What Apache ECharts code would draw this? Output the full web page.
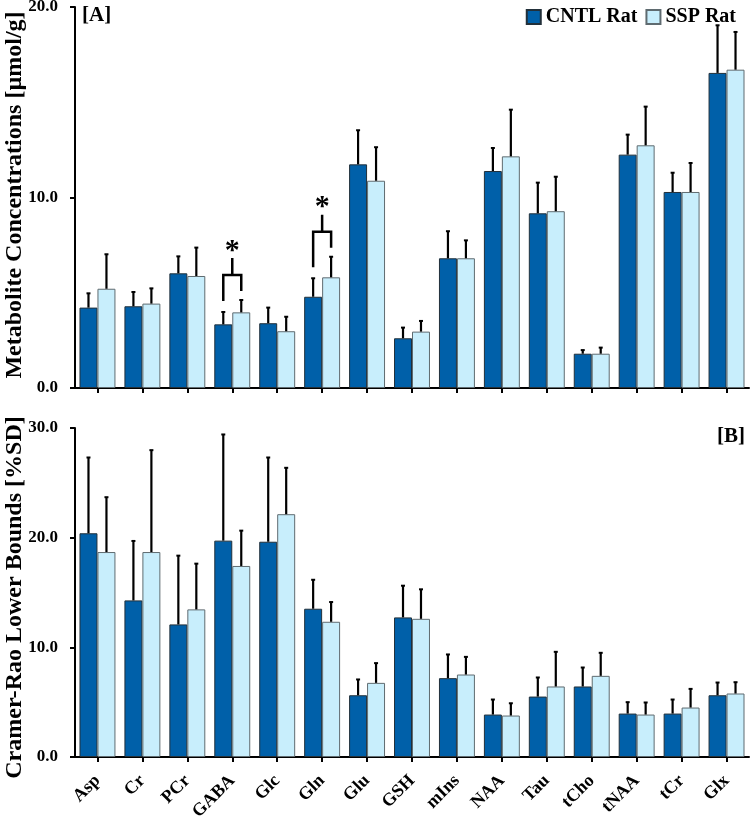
<!DOCTYPE html>
<html><head><meta charset="utf-8">
<script src="https://cdn.jsdelivr.net/npm/echarts@6/dist/echarts.min.js"></script>
<style>html,body{margin:0;padding:0;background:#fff}#c{width:750px;height:820px}</style>
</head><body><div id="c"></div>
<script>
const categories = ['Asp','Cr','PCr','GABA','Glc','Gln','Glu','GSH','mIns','NAA','Tau','tCho','tNAA','tCr','Glx'];
const seriesNames = ['CNTL Rat','SSP Rat'];
const concCNTL   = [4.22,4.29,6.02,3.34,3.40,4.79,11.74,2.61,6.81,11.39,9.17,1.80,12.25,10.29,16.54];
const concCNTLsd = [0.75,0.75,0.89,0.65,0.82,0.97,1.79,0.56,1.42,1.21,1.61,0.19,1.05,1.01,2.50];
const concSSP    = [5.21,4.43,5.88,3.97,2.98,5.81,10.88,2.96,6.81,12.16,9.28,1.80,12.74,10.29,16.71];
const concSSPsd  = [1.81,0.80,1.49,0.65,0.76,1.08,1.76,0.56,0.94,2.45,1.81,0.32,2.03,1.52,1.98];
const crlbCNTL   = [20.40,14.28,12.09,19.73,19.63,13.52,5.63,12.73,7.19,3.87,5.51,6.43,3.96,3.96,5.63];
const crlbCNTLsd = [6.91,5.42,6.27,9.68,7.68,2.64,1.44,2.89,2.16,1.37,1.74,1.73,1.04,1.28,1.16];
const crlbSSP    = [18.69,18.69,13.46,17.42,22.14,12.33,6.76,12.60,7.52,3.78,6.43,7.40,3.87,4.51,5.79];
const crlbSSPsd  = [5.00,9.29,4.17,3.22,4.23,1.80,1.80,2.69,1.61,1.12,3.16,2.10,1.10,1.70,1.03];
const significant = ['GABA','Gln'];
const concAxis = {min:0, max:20, interval:10};
const crlbAxis = {min:0, max:30, interval:10};
const panelLabels = ['[A]','[B]'];
const yNames = ['Metabolite Concentrations [µmol/g]','Cramer-Rao Lower Bounds [%SD]'];

const FONT = '"Liberation Serif","Times New Roman",serif';
const DARK = '#0060A9';
const LIGHT = '#C8EEFC';
const CAT_GAP = 0.2;

function errRender(side){
  return function(params, api){
    const cat = api.value(0), mean = api.value(1), sd = api.value(2);
    const base = api.coord([cat, mean]);
    const top = api.coord([cat, mean + sd]);
    const band = api.size([1, 0])[0];
    const bw = band * (1 - CAT_GAP) / 2;
    const x = base[0] + side * bw / 2;
    return {type:'group', children:[
      {type:'line', shape:{x1:x, y1:base[1], x2:x, y2:top[1]}, style:{stroke:'#000', lineWidth:2.2}},
      {type:'line', shape:{x1:x-2, y1:top[1], x2:x+2, y2:top[1]}, style:{stroke:'#000', lineWidth:2}}
    ]};
  };
}
function sigRender(params, api){
  const cat = api.value(0);
  const tL = api.coord([cat, api.value(1)]);
  const tR = api.coord([cat, api.value(2)]);
  const band = api.size([1, 0])[0];
  const bw = band * (1 - CAT_GAP) / 2;
  const xL = tL[0] - bw/2, xR = tL[0] + bw/2;
  const yTop = Math.min(tL[1], tR[1]);
  const yH = yTop - 25;
  const yS = yH - 17;
  return {type:'group', children:[
    {type:'polyline', shape:{points:[[xL, tL[1]-11],[xL, yH],[xR, yH],[xR, tR[1]-9]]}, style:{stroke:'#000', lineWidth:2.5, fill:null}},
    {type:'line', shape:{x1:tL[0], y1:yH, x2:tL[0], y2:yS}, style:{stroke:'#000', lineWidth:2.5}},
    {type:'text', style:{text:'*', x:tL[0], y:yS-7, textAlign:'center', textVerticalAlign:'middle', font:'bold 30px '+FONT, fill:'#000'}}
  ]};
}

const axisLineStyle = {lineStyle:{color:'#000', width:2}};
const tickStyle = {show:true, inside:false, length:5, alignWithLabel:true, lineStyle:{color:'#000', width:2}};

function yAxis(gi, ax, name, pad){
  return {type:'value', gridIndex:gi, min:ax.min, max:ax.max, interval:ax.interval,
    name:name, nameLocation:'middle', nameGap:48, nameMoveOverlap:false,
    nameTextStyle:{fontFamily:FONT, fontWeight:'bold', fontSize:24, color:'#000', padding:pad},
    axisLine:{show:true, ...axisLineStyle},
    axisTick:{show:true, length:5, lineStyle:{color:'#000', width:2}},
    splitLine:{show:false},
    axisLabel:{margin:17, fontFamily:FONT, fontWeight:'bold', fontSize:17, color:'#000', formatter:v=>v.toFixed(1)}};
}
function xAxis(gi, showLabels){
  return {type:'category', gridIndex:gi, data:categories,
    axisLine:{show:true, onZero:false, ...axisLineStyle},
    axisTick:tickStyle,
    axisLabel:{show:showLabels, rotate:45, interval:0, margin:21, fontFamily:FONT, fontWeight:'bold', fontSize:18, color:'#000'}};
}
function bars(gi, name, vals, color, border){
  return {type:'bar', name:name, xAxisIndex:gi, yAxisIndex:gi, data:vals,
    barGap:'0%', barCategoryGap:(CAT_GAP*100)+'%',
    itemStyle:{color:color, borderColor:border, borderWidth:1}};
}
function errs(gi, vals, sds, side){
  return {type:'custom', xAxisIndex:gi, yAxisIndex:gi, z:5, silent:true,
    data:vals.map((v,i)=>[i, v, sds[i]]), renderItem:errRender(side),
    encode:{x:0, y:1}};
}
const sigData = significant.map(c=>{
  const i = categories.indexOf(c);
  return [i, concCNTL[i]+concCNTLsd[i], concSSP[i]+concSSPsd[i]];
});

const chart = echarts.init(document.getElementById('c'), null, {renderer:'canvas'});
chart.setOption({
  animation:false,
  backgroundColor:'#fff',
  textStyle:{fontFamily:FONT},
  legend:{right:9, top:2, icon:'rect', itemWidth:14, itemHeight:14, itemGap:8, data:seriesNames,
    textStyle:{fontFamily:FONT, fontWeight:'bold', fontSize:20, color:'#000'}},
  grid:[
    {left:75, right:1, top:7, height:381, containLabel:false, outerBoundsMode:'none'},
    {left:75, right:1, top:428, height:329, containLabel:false, outerBoundsMode:'none'}
  ],
  xAxis:[xAxis(0,false), xAxis(1,true)],
  yAxis:[yAxis(0, concAxis, yNames[0], [0,0,0,5]), yAxis(1, crlbAxis, yNames[1], [0,10,0,0])],
  graphic:[
    {type:'text', left:82, top:5, style:{text:panelLabels[0], font:'bold 21px '+FONT, fill:'#000'}},
    {type:'text', left:717, top:426, style:{text:panelLabels[1], font:'bold 21px '+FONT, fill:'#000'}}
  ],
  series:[
    bars(0, seriesNames[0], concCNTL, DARK, '#22303a'),
    bars(0, seriesNames[1], concSSP, LIGHT, '#5f6b70'),
    errs(0, concCNTL, concCNTLsd, -1),
    errs(0, concSSP, concSSPsd, 1),
    {type:'custom', xAxisIndex:0, yAxisIndex:0, z:6, silent:true, data:sigData, renderItem:sigRender, encode:{x:0, y:1}},
    bars(1, seriesNames[0], crlbCNTL, DARK, '#22303a'),
    bars(1, seriesNames[1], crlbSSP, LIGHT, '#5f6b70'),
    errs(1, crlbCNTL, crlbCNTLsd, -1),
    errs(1, crlbSSP, crlbSSPsd, 1)
  ]
});
</script></body></html>
